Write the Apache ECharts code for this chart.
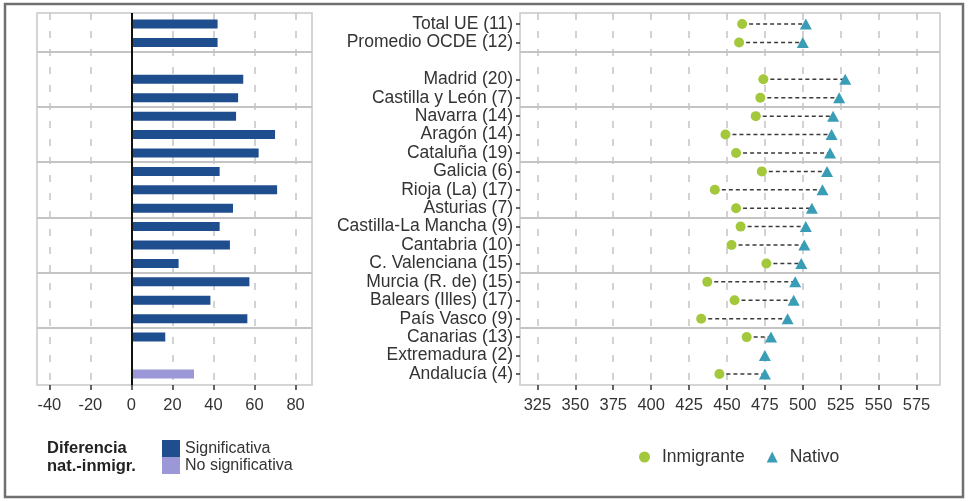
<!DOCTYPE html>
<html>
<head>
<meta charset="utf-8">
<script src="https://cdn.jsdelivr.net/npm/echarts@6/dist/echarts.min.js"></script>
<style>
  html, body { margin: 0; padding: 0; background: #fff; }
  #chart { width: 968px; height: 501px; }
</style>
</head>
<body>
<div id="chart"></div>
<script>
// Rows from top to bottom; the empty entry is a spacer row between the averages and the regions.
const regions = [
  'Total UE (11)', 'Promedio OCDE (12)', '',
  'Madrid (20)', 'Castilla y León (7)', 'Navarra (14)', 'Aragón (14)', 'Cataluña (19)',
  'Galicia (6)', 'Rioja (La) (17)', 'Asturias (7)', 'Castilla-La Mancha (9)', 'Cantabria (10)',
  'C. Valenciana (15)', 'Murcia (R. de) (15)', 'Balears (Illes) (17)', 'País Vasco (9)',
  'Canarias (13)', 'Extremadura (2)', 'Andalucía (4)'
];
// Mean scores by origin
const immigrant = [460, 458, null, 474, 472, 469, 449, 456, 473, 442, 456, 459, 453, 476, 437, 455, 433, 463, null, 445];
const native    = [502, 500, null, 528, 524, 520, 519, 518, 516, 513, 506, 502, 501, 499, 495, 494, 490, 479, 475, 475];
// Native minus immigrant gap and whether it is statistically significant
const gap         = [42, 42, null, 54.5, 52, 51, 70, 62, 43, 71, 49.5, 43, 48, 23, 57.5, 38.5, 56.5, 16.5, null, 30.5];
const significant = [true, true, null, true, true, true, true, true, true, true, true, true, true, true, true, true, true, true, null, false];
// Axis ticks
const gapTicks   = [-40, -20, 0, 20, 40, 60, 80];
const scoreTicks = [325, 350, 375, 400, 425, 450, 475, 500, 525, 550, 575];
// Group separators (every three rows)
const groupBreaks = [1.5, 4.5, 7.5, 10.5, 13.5, 16.5];

const FONT = "'Liberation Sans', Arial, sans-serif";
const TEXT = '#333333';
const DARK_BLUE = '#1f4e8f';
const LIGHT_PURPLE = '#9c98d8';
const GREEN = '#a3c83b';
const TEAL = '#3a9db6';

const labelledRows = regions.map((r, i) => (r ? i : null)).filter(i => i !== null);

const sigBars = [], nonSigBars = [];
gap.forEach((v, i) => {
  if (v == null) return;
  (significant[i] ? sigBars : nonSigBars).push([v, i]);
});
const immPoints = [], natPoints = [], links = [];
regions.forEach((r, i) => {
  if (immigrant[i] != null) immPoints.push([immigrant[i], i]);
  if (native[i] != null) natPoints.push([native[i], i]);
  if (immigrant[i] != null && native[i] != null) links.push([immigrant[i], native[i], i]);
});

function barItem(params, api) {
  const v = api.value(0), row = api.value(1);
  const a = api.coord([0, row]);
  const b = api.coord([v, row]);
  const h = 9;
  return {
    type: 'rect',
    shape: { x: a[0], y: a[1] - h / 2, width: b[0] - a[0], height: h },
    style: { fill: api.visual('color') }
  };
}

function linkItem(params, api) {
  const row = api.value(2);
  const a = api.coord([api.value(0), row]);
  const b = api.coord([api.value(1), row]);
  return {
    type: 'line',
    shape: { x1: a[0], y1: a[1], x2: b[0], y2: b[1] },
    style: { stroke: '#3a3a3a', lineWidth: 1.5, lineDash: [4, 3] }
  };
}

const rowAxis = {
  type: 'value', inverse: true, min: -0.6, max: 19.6,
  axisLine: { show: false, onZero: false }, splitLine: { show: false }
};
const gridLine = { show: true, lineStyle: { color: '#c4c4c4', width: 1.5, type: [7, 11] } };
const tickStyle = { show: true, length: 5, lineStyle: { color: '#333', width: 1.5 } };
const tickLabel = { fontSize: 16.5, color: TEXT, fontFamily: FONT, margin: 12 };

const chart = echarts.init(document.getElementById('chart'), null, { renderer: 'canvas' });
chart.setOption({
  animation: false,
  backgroundColor: '#fff',
  textStyle: { fontFamily: FONT },
  grid: [
    { left: 37, right: 656, top: 13, bottom: 116, show: true, borderColor: '#c8c8c8', borderWidth: 1.5 },
    { left: 520, right: 28, top: 13, bottom: 116, show: true, borderColor: '#c8c8c8', borderWidth: 1.5 }
  ],
  xAxis: [
    {
      type: 'value', gridIndex: 0, min: -46, max: 88, position: 'bottom',
      axisLine: { show: false, onZero: false },
      axisTick: Object.assign({ customValues: gapTicks }, tickStyle),
      axisLabel: Object.assign({ customValues: gapTicks }, tickLabel),
      splitLine: gridLine
    },
    {
      type: 'value', gridIndex: 1, min: 313.5, max: 590.5, position: 'bottom',
      axisLine: { show: false, onZero: false },
      axisTick: Object.assign({ customValues: scoreTicks }, tickStyle),
      axisLabel: Object.assign({ customValues: scoreTicks }, tickLabel),
      splitLine: gridLine
    }
  ],
  yAxis: [
    Object.assign({ gridIndex: 0, axisTick: { show: false }, axisLabel: { show: false } }, rowAxis),
    Object.assign({
      gridIndex: 1, position: 'left',
      axisTick: { show: true, customValues: labelledRows, length: 4, lineStyle: { color: '#333', width: 1.5 } },
      axisLabel: {
        customValues: labelledRows,
        formatter: v => regions[Math.round(v)],
        fontSize: 17.5, color: TEXT, fontFamily: FONT, margin: 7
      }
    }, rowAxis)
  ],
  legend: [
    {
      data: ['Significativa', 'No significativa'],
      orient: 'vertical', left: 162, top: 440, padding: 0,
      itemWidth: 18, itemHeight: 17, itemGap: 0, icon: 'rect',
      textStyle: { fontSize: 16, color: TEXT, fontFamily: FONT }
    },
    {
      data: ['Inmigrante', 'Nativo'],
      left: 639, top: 448, padding: 0,
      itemWidth: 11, itemHeight: 11, itemGap: 22,
      textStyle: { fontSize: 17.5, color: TEXT, fontFamily: FONT, padding: [0, 0, 0, 7] }
    }
  ],
  graphic: [
    {
      type: 'text', left: 47, top: 439,
      style: { text: 'Diferencia\nnat.-inmigr.', font: 'bold 16.5px ' + FONT, fill: '#222', lineHeight: 18.5 }
    },
    {
      type: 'rect', z: 100,
      shape: { x: 5, y: 4, width: 958, height: 493 },
      style: { fill: 'none', stroke: '#707070', lineWidth: 2.5 }
    }
  ],
  series: [
    {
      name: 'Significativa', type: 'custom', xAxisIndex: 0, yAxisIndex: 0,
      itemStyle: { color: DARK_BLUE }, renderItem: barItem,
      encode: { x: 0, y: 1 }, data: sigBars, z: 3,
      markLine: {
        silent: true, symbol: 'none', label: { show: false },
        lineStyle: { color: '#c4c4c4', width: 2, type: 'solid' },
        data: groupBreaks.map(v => ({ yAxis: v }))
      }
    },
    {
      name: 'No significativa', type: 'custom', xAxisIndex: 0, yAxisIndex: 0,
      itemStyle: { color: LIGHT_PURPLE }, renderItem: barItem,
      encode: { x: 0, y: 1 }, data: nonSigBars, z: 3,
      markLine: {
        silent: true, symbol: 'none', label: { show: false }, z: 5,
        lineStyle: { color: '#111', width: 2, type: 'solid' },
        data: [{ xAxis: 0 }]
      }
    },
    {
      name: 'links', type: 'custom', xAxisIndex: 1, yAxisIndex: 1,
      renderItem: linkItem, encode: { x: [0, 1], y: 2 }, data: links, z: 2,
      markLine: {
        silent: true, symbol: 'none', label: { show: false },
        lineStyle: { color: '#c4c4c4', width: 2, type: 'solid' },
        data: groupBreaks.map(v => ({ yAxis: v }))
      }
    },
    {
      name: 'Inmigrante', type: 'scatter', xAxisIndex: 1, yAxisIndex: 1,
      symbol: 'circle', symbolSize: 10, itemStyle: { color: GREEN, opacity: 1 },
      data: immPoints, z: 4
    },
    {
      name: 'Nativo', type: 'scatter', xAxisIndex: 1, yAxisIndex: 1,
      symbol: 'triangle', symbolSize: [12, 11], itemStyle: { color: TEAL, opacity: 1 },
      data: natPoints, z: 5
    }
  ]
});
</script>
</body>
</html>
